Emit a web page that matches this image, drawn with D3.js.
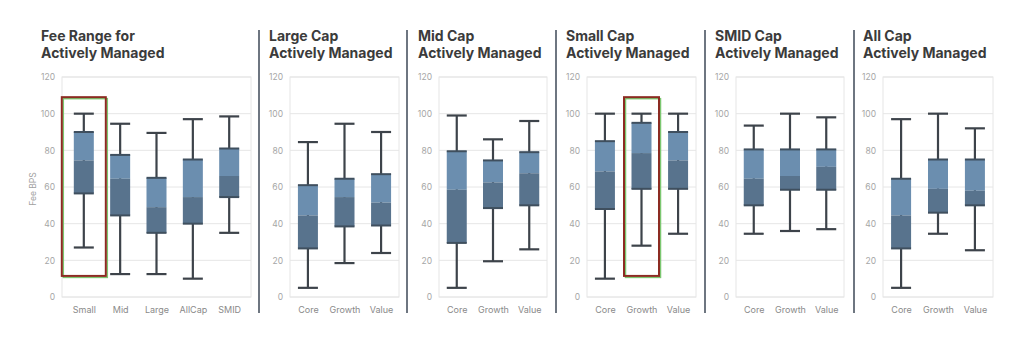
<!DOCTYPE html>
<html>
<head>
<meta charset="utf-8">
<script src="https://cdn.jsdelivr.net/npm/d3@7"></script>
<style>
  html, body { margin: 0; padding: 0; background: #fff; }
  svg { display: block; font-family: Inter, 'Noto Sans', sans-serif; }
</style>
</head>
<body>
<div id="fees"></div>
<script>
// box stats per category: [low, q1, median, q3, high] in basis points
const feeCategories = ['Small', 'Mid', 'Large', 'AllCap', 'SMID']
const styleCategories = ['Core', 'Growth', 'Value']
const yTicks = [0, 20, 40, 60, 80, 100, 120]

const feeRangeBoxes = [
  [27, 56.5, 74.5, 90, 100],
  [12.5, 44.5, 64.5, 77.5, 94.5],
  [12.5, 35, 49, 65, 89.5],
  [10, 40, 54.5, 75, 97],
  [35, 54.5, 66, 81, 98.5]
]
const largeCapBoxes = [
  [5, 26.5, 44.5, 61, 84.5],
  [18.5, 38.5, 54.5, 64.5, 94.5],
  [24, 39, 51.5, 67, 90]
]
const midCapBoxes = [
  [5, 29.5, 58.5, 79.5, 99],
  [19.5, 48.5, 62.5, 74.5, 86],
  [26, 50, 67.5, 79, 96]
]
const smallCapBoxes = [
  [10, 48, 68.5, 85, 100],
  [28, 59, 78.5, 95, 100],
  [34.5, 59, 74.5, 90, 100]
]
const smidCapBoxes = [
  [34.5, 50, 64.5, 80.5, 93.5],
  [36, 58.5, 66, 80.5, 100],
  [37, 58.5, 71, 80.5, 98]
]
const allCapBoxes = [
  [5, 26.5, 44.5, 64.5, 97],
  [34.5, 46, 59, 75, 100],
  [25.5, 50, 58, 75, 92]
]

// highlighted series, value range of the outline
const highlightRange = [11.5, 109]

const panels = [
  {title: ['Fee Range for', 'Actively Managed'], categories: feeCategories, boxes: feeRangeBoxes, highlight: 'Small'},
  {title: ['Large Cap', 'Actively Managed'], categories: styleCategories, boxes: largeCapBoxes},
  {title: ['Mid Cap', 'Actively Managed'], categories: styleCategories, boxes: midCapBoxes},
  {title: ['Small Cap', 'Actively Managed'], categories: styleCategories, boxes: smallCapBoxes, highlight: 'Growth'},
  {title: ['SMID Cap', 'Actively Managed'], categories: styleCategories, boxes: smidCapBoxes},
  {title: ['All Cap', 'Actively Managed'], categories: styleCategories, boxes: allCapBoxes}
]

// layout of each panel: plot left/right, title x
const layout = [
  {x0: 62, x1: 251, tx: 41, pad: 0.6, hw: 22},
  {x0: 290, x1: 399, tx: 269, pad: 0.49, hw: 17.5},
  {x0: 439, x1: 547, tx: 418, pad: 0.49, hw: 17.5},
  {x0: 587, x1: 696, tx: 566, pad: 0.49, hw: 17.5},
  {x0: 736, x1: 844, tx: 715, pad: 0.49, hw: 17.5},
  {x0: 883, x1: 993, tx: 863, pad: 0.49, hw: 17.5}
]
const dividers = [259, 407, 556, 705, 854]

const width = 1024
const height = 344
const boxWidth = 20

const svg = d3.select('#fees')
  .append('svg')
  .attr('width', width)
  .attr('height', height)

const y = d3.scaleLinear().domain([0, 120]).range([297, 77])

// vertical rules between panels
svg.append('g')
  .selectAll('line')
  .data(dividers)
  .join('line')
  .attr('x1', d => d).attr('x2', d => d)
  .attr('y1', 30).attr('y2', 313)
  .style('stroke', '#6e7681')
  .style('stroke-width', 2)

panels.forEach((p, i) => {
  const l = layout[i]
  const g = svg.append('g')
  const x = d3.scalePoint().domain(p.categories).range([l.x0, l.x1]).padding(l.pad)

  // title
  const title = g.append('text')
    .attr('x', l.tx)
    .attr('y', 41)
    .style('font-size', '14px')
    .style('font-weight', 700)
    .style('fill', '#3b3b3b')
  title.selectAll('tspan')
    .data(p.title)
    .join('tspan')
    .attr('x', l.tx)
    .attr('dy', (d, j) => j ? 17 : 0)
    .text(d => d)

  // grid + frame
  g.append('g')
    .selectAll('line')
    .data(yTicks)
    .join('line')
    .attr('x1', l.x0).attr('x2', l.x1)
    .attr('y1', d => y(d)).attr('y2', d => y(d))
    .style('stroke', '#e6e6e6')
    .style('stroke-width', 1)
  g.append('rect')
    .attr('x', l.x0).attr('y', y(120))
    .attr('width', l.x1 - l.x0).attr('height', y(0) - y(120))
    .style('fill', 'none')
    .style('stroke', '#e6e6e6')

  // y axis labels
  const yAxis = d3.axisLeft(y).tickValues(yTicks).tickSize(0).tickPadding(7)
  g.append('g')
    .attr('transform', `translate(${l.x0}, 0)`)
    .call(yAxis)
    .call(a => a.select('.domain').remove())
    .selectAll('text')
    .style('font-size', '8.5px')
    .style('fill', '#a6a6a6')
    .style('font-family', 'Inter, sans-serif')

  // x axis labels
  const xAxis = d3.axisBottom(x).tickSize(0).tickPadding(10)
  g.append('g')
    .attr('transform', `translate(0, ${y(0)})`)
    .call(xAxis)
    .call(a => a.select('.domain').remove())
    .selectAll('text')
    .style('font-size', '9px')
    .style('fill', '#8a8a8a')
    .style('font-family', 'Inter, sans-serif')

  if (i === 0) {
    g.append('text')
      .attr('transform', `translate(36, ${(y(0) + y(120)) / 2 + 2}) rotate(-90)`)
      .attr('text-anchor', 'middle')
      .style('font-size', '8.5px')
      .style('fill', '#a0a0a0')
      .text('Fee BPS')
  }

  // boxes
  const box = g.append('g')
    .selectAll('g')
    .data(p.boxes.map((b, j) => ({cat: p.categories[j], s: b})))
    .join('g')
    .attr('transform', d => `translate(${x(d.cat)}, 0)`)

  box.append('line')
    .attr('x1', 0).attr('x2', 0)
    .attr('y1', d => y(d.s[4])).attr('y2', d => y(d.s[0]))
    .style('stroke', '#3d434a')
    .style('stroke-width', 2.2)
  box.selectAll('line.cap')
    .data(d => [d.s[0], d.s[4]])
    .join('line')
    .attr('class', 'cap')
    .attr('x1', -boxWidth / 2).attr('x2', boxWidth / 2)
    .attr('y1', d => y(d)).attr('y2', d => y(d))
    .style('stroke', '#3d434a')
    .style('stroke-width', 2.2)
  // upper half (median to q3)
  box.append('rect')
    .attr('x', -boxWidth / 2).attr('width', boxWidth)
    .attr('y', d => y(d.s[3])).attr('height', d => y(d.s[2]) - y(d.s[3]))
    .style('fill', '#6b8eaf')
  // lower half (q1 to median)
  box.append('rect')
    .attr('x', -boxWidth / 2).attr('width', boxWidth)
    .attr('y', d => y(d.s[2])).attr('height', d => y(d.s[1]) - y(d.s[2]))
    .style('fill', '#58738d')
  box.selectAll('line.edge')
    .data(d => [d.s[1], d.s[3]])
    .join('line')
    .attr('class', 'edge')
    .attr('x1', -boxWidth / 2).attr('x2', boxWidth / 2)
    .attr('y1', d => y(d)).attr('y2', d => y(d))
    .style('stroke', '#3f4f5e')
    .style('stroke-width', 2)

  // highlight outline
  if (p.highlight) {
    const cx = x(p.highlight)
    const hy0 = y(highlightRange[1])
    const hy1 = y(highlightRange[0])
    g.append('rect')
      .attr('x', cx - l.hw + 1.5).attr('y', hy0 + 1.5)
      .attr('width', l.hw * 2).attr('height', hy1 - hy0)
      .style('fill', 'none')
      .style('stroke', '#7cc771')
      .style('stroke-width', 1.5)
    g.append('rect')
      .attr('x', cx - l.hw).attr('y', hy0)
      .attr('width', l.hw * 2).attr('height', hy1 - hy0)
      .style('fill', 'none')
      .style('stroke', '#8c2b22')
      .style('stroke-width', 2)
  }
})
</script>
</body>
</html>
